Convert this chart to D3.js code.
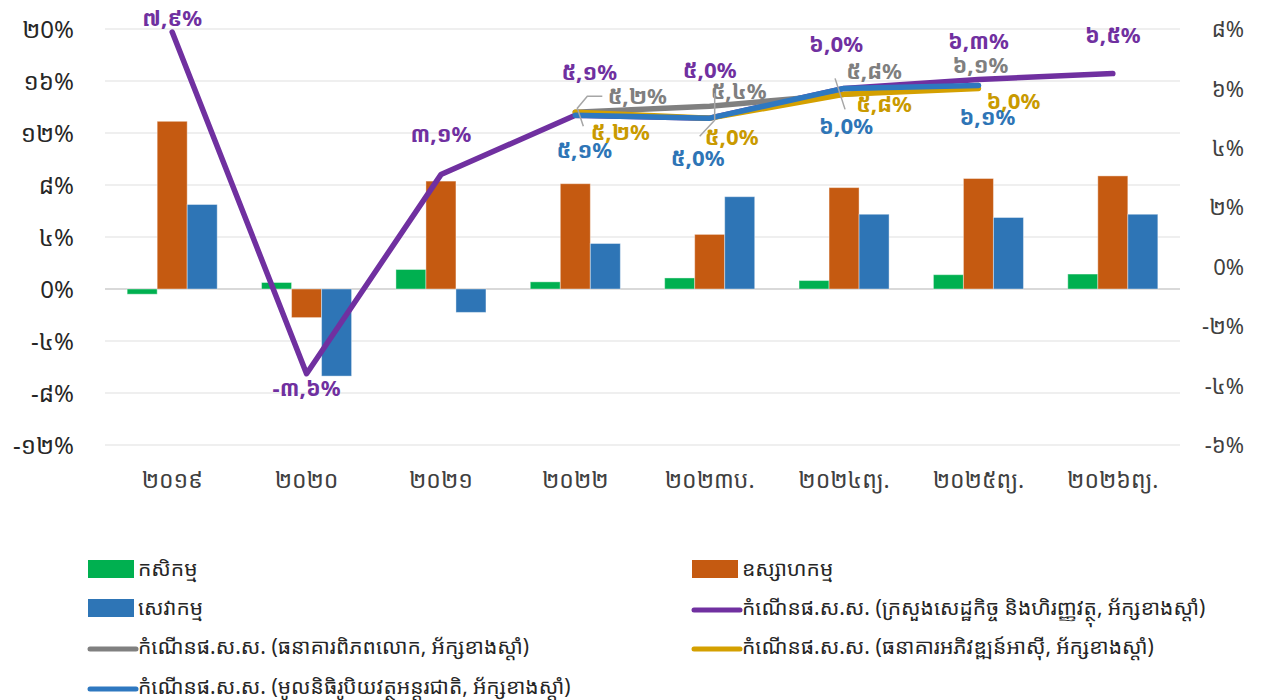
<!DOCTYPE html>
<html>
<head>
<meta charset="utf-8">
<script src="https://cdn.jsdelivr.net/npm/d3@7"></script>
<style>
  body { margin: 0; background: #fff; }
  svg text { font-family: "Khmer OS", "Noto Sans Khmer", "Khmer OS System", "Noto Sans", sans-serif; }
</style>
</head>
<body>
<div id="content"></div>
<script>

  // categories (years, Khmer numerals)
  var years = ["២០១៩", "២០២០", "២០២១", "២០២២", "២០២៣ប.", "២០២៤ព្យ.", "២០២៥ព្យ.", "២០២៦ព្យ."];

  // sector growth, left axis (%)
  var agriculture = [-0.4, 0.5, 1.5, 0.55, 0.85, 0.65, 1.1, 1.15];
  var industry    = [12.9, -2.2, 8.3, 8.1, 4.2, 7.8, 8.5, 8.7];
  var services    = [6.5, -6.7, -1.8, 3.5, 7.1, 5.75, 5.5, 5.75];

  // GDP growth, right axis (%) - null = no value
  var gdpMef  = [7.9, -3.6, 3.1, 5.1, 5.0, 6.0, 6.3, 6.5];
  var gdpWb   = [null, null, null, 5.2, 5.4, 5.8, 6.1, null];
  var gdpAdb  = [null, null, null, 5.2, 5.0, 5.8, 6.0, null];
  var gdpImf  = [null, null, null, 5.1, 5.0, 6.0, 6.1, null];

  var leftTicks  = [20, 16, 12, 8, 4, 0, -4, -8, -12];
  var rightTicks = [8, 6, 4, 2, 0, -2, -4, -6];

  var barNames = ["កសិកម្ម", "ឧស្សាហកម្ម", "សេវាកម្ម"];
  var lineNames = [
    "កំណើនផ.ស.ស. (ក្រសួងសេដ្ឋកិច្ច និងហិរញ្ញវត្ថុ, អ័ក្សខាងស្តាំ)",
    "កំណើនផ.ស.ស. (ធនាគារពិភពលោក, អ័ក្សខាងស្តាំ)",
    "កំណើនផ.ស.ស. (ធនាគារអភិវឌ្ឍន៍អាស៊ី, អ័ក្សខាងស្តាំ)",
    "កំណើនផ.ស.ស. (មូលនិធិរូបិយវត្ថុអន្តរជាតិ, អ័ក្សខាងស្តាំ)"
  ];

  var khDigits = "០១២៣៤៥៦៧៨៩";
  function kh(str) {
    return String(str).replace(/[1-9]/g, function(c) { return khDigits[+c]; });
  }
  function fmtPct(v) { return kh(v.toFixed(1).replace(".", ",")) + "%"; }

  var width = 1266, height = 700;
  var svg = d3.select("#content").append("svg")
      .attr("width", width).attr("height", height);

  var plotL = 105, plotR = 1180, plotT = 29, plotB = 445;

  var x = d3.scaleBand().domain(years).range([plotL, plotR])
      .paddingInner(0.33).paddingOuter(0.165);
  var x1 = d3.scaleBand().domain([0, 1, 2]).range([0, x.bandwidth()]);
  var yL = d3.scaleLinear().domain([-12, 20]).range([plotB, plotT]);
  var yR = d3.scaleLinear().domain([-6, 8]).range([plotB, plotT]);

  var barColors = ["#00b050", "#c55a11", "#2e75b6"];
  var lineColors = ["#7030a0", "#808080", "#d4a000", "#2e78c0"];
  var labelColors = ["#7030a0", "#7f7f7f", "#c99a00", "#2e75b6"];

  // grid
  svg.append("g").selectAll("line")
    .data(leftTicks)
    .enter().append("line")
      .attr("x1", plotL).attr("x2", plotR)
      .attr("y1", function(d) { return yL(d); })
      .attr("y2", function(d) { return yL(d); })
      .attr("stroke", function(d) { return d === 0 ? "#d9d9d9" : "#efefef"; })
      .attr("stroke-width", 2);

  // left axis
  var axL = svg.append("g").attr("transform", "translate(" + 74 + ",0)")
      .call(d3.axisLeft(yL).tickValues(leftTicks).tickSize(0).tickPadding(0)
        .tickFormat(function(d) { return kh(d) + "%"; }));
  axL.select(".domain").remove();
  axL.selectAll("text").attr("font-size", 24).attr("fill", "#262626").attr("dy", "0.35em");

  // right axis
  var axR = svg.append("g").attr("transform", "translate(" + 1244 + ",0)")
      .call(d3.axisLeft(yR).tickValues(rightTicks).tickSize(0).tickPadding(0)
        .tickFormat(function(d) { return kh(d) + "%"; }));
  axR.select(".domain").remove();
  axR.selectAll("text").attr("font-size", 22).attr("fill", "#404040").attr("dy", "0.35em");

  // x axis labels
  var axX = svg.append("g").attr("transform", "translate(0," + 480 + ")")
      .call(d3.axisBottom(x).tickSize(0).tickPadding(0));
  axX.select(".domain").remove();
  axX.selectAll("text").attr("font-size", 23).attr("fill", "#404040").attr("dy", "0.35em");

  // bars
  var barSeries = [agriculture, industry, services];
  barSeries.forEach(function(vals, s) {
    svg.append("g").selectAll("rect")
      .data(vals)
      .enter().append("rect")
        .attr("x", function(d, i) { return x(years[i]) + x1(s); })
        .attr("width", x1.bandwidth())
        .attr("y", function(d) { return yL(Math.max(0, d)); })
        .attr("height", function(d) { return Math.abs(yL(d) - yL(0)); })
        .attr("fill", barColors[s])
        .attr("stroke", "#fff").attr("stroke-opacity", 0.4).attr("stroke-width", 1);
  });

  // lines
  var lineSeries = [gdpMef, gdpWb, gdpAdb, gdpImf];
  var cx = function(i) { return x(years[i]) + x.bandwidth() / 2; };
  var line = d3.line()
      .defined(function(d) { return d != null; })
      .x(function(d, i) { return cx(i); })
      .y(function(d) { return yR(d); });

  lineSeries.forEach(function(vals, s) {
    svg.append("path")
      .attr("d", line(vals))
      .attr("fill", "none")
      .attr("stroke", lineColors[s])
      .attr("stroke-width", 5.5)
      .attr("stroke-linecap", "round")
      .attr("stroke-linejoin", "round");
  });

  // label offsets (dx, dy) from each point
  var labelOffsets = [
    [[0, -14], [0, 15], [0, -40], [14, -43], [0, -48], [-8, -44], [0, -38], [0, -38]],
    [null, null, null, [62, -16], [29, -15], [30, -23], [2, -20], null],
    [null, null, null, [45, 20], [22, 19], [40, 10], [35, 13], null],
    [null, null, null, [9, 35], [-12, 40], [2, 38], [9, 32], null]
  ];

  lineSeries.forEach(function(vals, s) {
    svg.append("g").selectAll("text")
      .data(vals.map(function(v, i) { return {v: v, i: i}; }).filter(function(d) { return d.v != null; }))
      .enter().append("text")
        .attr("x", function(d) { return cx(d.i) + labelOffsets[s][d.i][0]; })
        .attr("y", function(d) { return yR(d.v) + labelOffsets[s][d.i][1]; })
        .attr("text-anchor", "middle")
        .attr("dy", "0.35em")
        .attr("font-size", 22)
        .attr("font-weight", "bold")
        .attr("fill", labelColors[s])
        .text(function(d) { return fmtPct(d.v); });
  });

  // leader lines for the crowded labels
  var leaders = [
    [cx(3) + 27, yR(5.2) - 16, cx(3) + 12, yR(5.2) - 16, cx(3) + 2, yR(5.2) - 4, cx(3) + 8, yR(5.2) + 14],
    [cx(4) + 5, yR(5.4) - 13, cx(4) + 5, yR(5.0) + 2, cx(4) - 10, yR(5.0) + 18]
  ];
  leaders.forEach(function(p) {
    var pts = [];
    for (var k = 0; k < p.length; k += 2) pts.push([p[k], p[k + 1]]);
    svg.append("path").attr("d", d3.line()(pts))
      .attr("fill", "none").attr("stroke", "#a6a6a6").attr("stroke-width", 1.5);
  });
  svg.append("line")
    .attr("x1", cx(5) - 9).attr("y1", yR(5.8) - 16)
    .attr("x2", cx(5) + 1).attr("y2", yR(5.8) + 15)
    .attr("stroke", "#a6a6a6").attr("stroke-width", 1.5);

  // legend
  var legend = [
    {name: barNames[0], type: "bar", color: barColors[0], col: 0, row: 0},
    {name: barNames[1], type: "bar", color: barColors[1], col: 1, row: 0},
    {name: barNames[2], type: "bar", color: barColors[2], col: 0, row: 1},
    {name: lineNames[0], type: "line", color: lineColors[0], col: 1, row: 1},
    {name: lineNames[1], type: "line", color: lineColors[1], col: 0, row: 2},
    {name: lineNames[2], type: "line", color: lineColors[2], col: 1, row: 2},
    {name: lineNames[3], type: "line", color: lineColors[3], col: 0, row: 3}
  ];
  var colX = [88, 692], rowY = [569, 608, 647, 687];

  var item = svg.append("g").selectAll("g")
    .data(legend)
    .enter().append("g")
      .attr("transform", function(d) { return "translate(" + colX[d.col] + "," + rowY[d.row] + ")"; });

  item.filter(function(d) { return d.type === "bar"; }).append("rect")
      .attr("x", 0).attr("y", -9).attr("width", 46).attr("height", 18)
      .attr("fill", function(d) { return d.color; });
  item.filter(function(d) { return d.type === "line"; }).append("line")
      .attr("x1", 2).attr("x2", 48).attr("y1", 2).attr("y2", 2)
      .attr("stroke", function(d) { return d.color; })
      .attr("stroke-width", 5).attr("stroke-linecap", "round");
  item.append("text")
      .attr("x", 50)
      .attr("dy", "0.35em")
      .attr("font-size", 21)
      .attr("fill", "#262626")
      .text(function(d) { return d.name; });

</script>
</body>
</html>
